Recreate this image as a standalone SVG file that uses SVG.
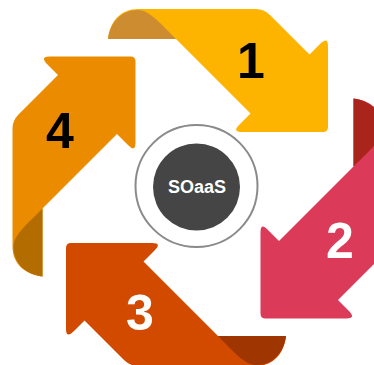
<svg xmlns="http://www.w3.org/2000/svg" width="374" height="365" viewBox="0 0 374 365">
  <style>
    .num { font-family: "Liberation Sans", Arial, sans-serif; font-weight: bold; font-size: 50px; text-anchor: middle; }
    .dark { fill: #000000; }
    .light { fill: #ffffff; }
    .hub { font-family: "Liberation Sans", Arial, sans-serif; font-weight: bold; font-size: 18px; fill: #ffffff; text-anchor: middle; }
  </style>
  <defs>
    <path id="arrowBody" d="M108,39 C110,21 121,9 138,9 L256,9 Q264,9 270,15 L309.5,54.5 L320,44 Q328,36 328,46 L328,127 Q328,132 323,132 L242,132 Q232,132 239,125 L250.5,113.5 L176,39 Z"/>
    <path id="arrowFold" d="M108,39 C110,22 122,10 137,10 C149,10 157,20 176,39 Z"/>
  </defs>
  <rect width="374" height="365" fill="#ffffff"/>
  <g id="connectors"></g>
  <g id="arrow1">
    <use href="#arrowBody" fill="#FDB400"/>
    <use href="#arrowFold" fill="#CE8C31"/>
    <text class="num dark" x="251" y="78">1</text>
  </g>
  <g id="arrow2">
    <g transform="rotate(90 201 191.5)">
      <use href="#arrowBody" fill="#DB3B58"/>
      <use href="#arrowFold" fill="#A9241B"/>
    </g>
    <text class="num light" x="340" y="258">2</text>
  </g>
  <g id="arrow3">
    <g transform="rotate(180 197 187.5)">
      <use href="#arrowBody" fill="#D14A00"/>
      <use href="#arrowFold" fill="#9F3500"/>
    </g>
    <text class="num light" x="140" y="330">3</text>
  </g>
  <g id="arrow4">
    <g transform="rotate(-90 194 190.5)">
      <use href="#arrowBody" fill="#EB8C00"/>
      <use href="#arrowFold" fill="#B26C00"/>
    </g>
    <text class="num dark" x="60" y="148">4</text>
  </g>
  <g id="hub">
    <circle cx="196.5" cy="186" r="61" fill="none" stroke="#8A8A8A" stroke-width="2"/>
    <circle cx="196.5" cy="187" r="43.5" fill="#454545"/>
    <text class="hub" x="197" y="193">SOaaS</text>
  </g>
</svg>
